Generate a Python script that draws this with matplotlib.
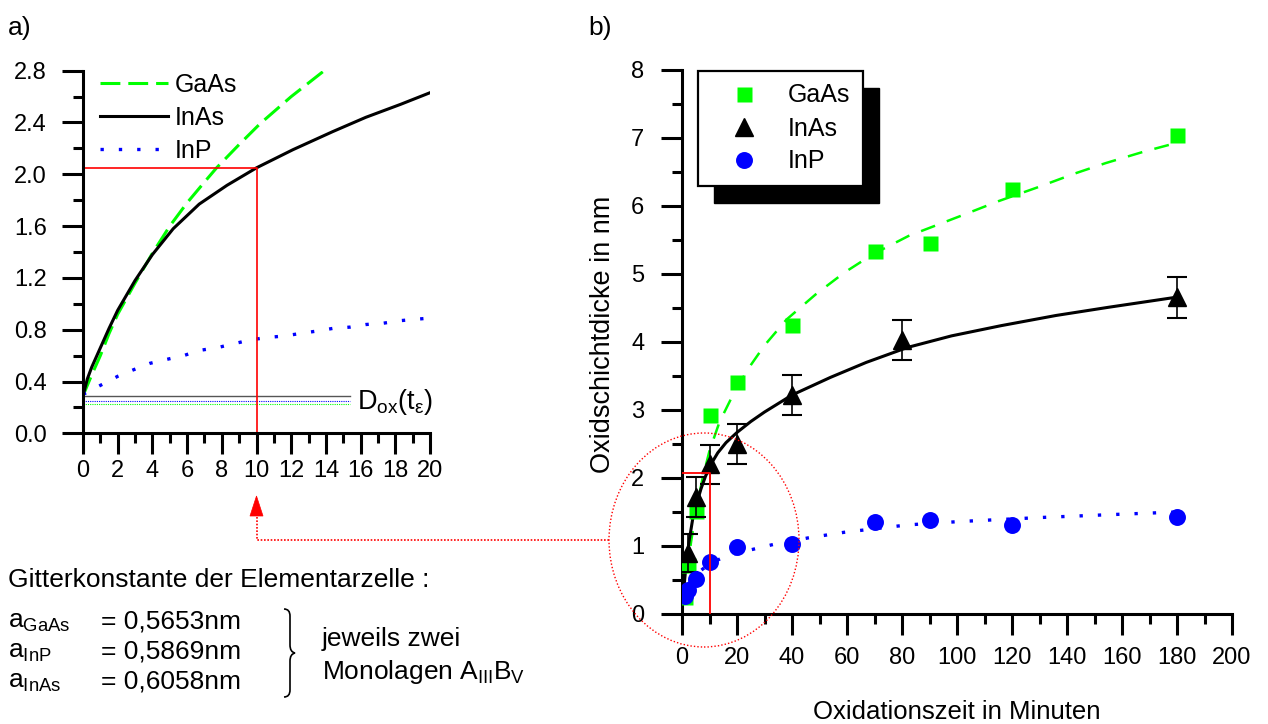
import matplotlib
matplotlib.use('Agg')
import matplotlib.pyplot as plt
from matplotlib.patches import Ellipse, Rectangle, Polygon, PathPatch
from matplotlib.path import Path
from matplotlib.lines import Line2D
from matplotlib.transforms import IdentityTransform

plt.rcParams['font.family'] = ['Liberation Sans', 'DejaVu Sans']
plt.rcParams['mathtext.fontset'] = 'custom'
plt.rcParams['mathtext.rm'] = 'Liberation Sans'
plt.rcParams['mathtext.it'] = 'Liberation Sans:italic'
plt.rcParams['mathtext.bf'] = 'Liberation Sans:bold'

GREEN = '#00ff00'
BLUE = '#0000ff'

# ---- panel a: model curves ----
a_t_gaas = [0, 0.5, 1, 1.5, 2, 3, 4, 5, 6, 7, 7.7, 9, 10.2, 12, 13.9, 14.2]
a_d_gaas = [0.29, 0.45, 0.6, 0.77, 0.92, 1.16, 1.39, 1.6, 1.78, 1.94, 2.05, 2.23, 2.39, 2.6, 2.8, 2.83]
a_t_inas = [0, 0.25, 0.5, 1, 1.5, 2, 3, 4, 5.2, 6.7, 8.3, 10, 12.1, 14.4, 16.3, 18.3, 20]
a_d_inas = [0.29, 0.42, 0.51, 0.66, 0.81, 0.95, 1.18, 1.38, 1.58, 1.77, 1.915, 2.05, 2.19, 2.33, 2.44, 2.54, 2.63]
a_t_inp = [0, 1, 2, 2.9, 3.85, 4.8, 5.8, 6.7, 7.7, 8.65, 9.6, 10.6, 11.5, 12.5, 13.5, 14.4, 15.4, 16.3, 17.3, 18.3, 20]
a_d_inp = [0.3, 0.37, 0.44, 0.49, 0.54, 0.57, 0.6, 0.64, 0.66, 0.69, 0.72, 0.74, 0.75, 0.77, 0.79, 0.81, 0.82, 0.84, 0.85, 0.87, 0.89]
dox_levels = [0.29, 0.25, 0.225]   # InAs, InP, GaAs
dox_tmax = 15.4
t_mark = 10
d_mark_a = 2.05

# ---- panel b: measurements ----
t_gaas = [1, 2, 5, 10, 20, 40, 70, 90, 120, 180]
d_gaas = [0.25, 0.72, 1.52, 2.92, 3.41, 4.25, 5.34, 5.45, 6.25, 7.04]
t_inas = [2, 5, 10, 20, 40, 80, 180]
d_inas = [0.9, 1.72, 2.2, 2.5, 3.22, 4.03, 4.66]
err_inas = [0.28, 0.29, 0.29, 0.3, 0.3, 0.3, 0.3]
t_inp = [1, 2, 5, 10, 20, 40, 70, 90, 120, 180]
d_inp = [0.27, 0.36, 0.51, 0.76, 0.98, 1.03, 1.36, 1.38, 1.31, 1.43]

# ---- panel b: fit curves ----
f_t_gaas = [0.3, 1.5, 3.3, 5, 7.5, 10, 13.6, 19.6, 25, 30, 38, 48.6, 59, 69.4, 82.4, 92.7, 103, 115, 129, 143, 154, 168, 180]
f_d_gaas = [0.2, 0.51, 1.06, 1.5, 2.0, 2.4, 2.82, 3.31, 3.66, 3.95, 4.33, 4.7, 5.02, 5.29, 5.56, 5.72, 5.88, 6.07, 6.27, 6.48, 6.63, 6.8, 6.93]
f_t_inas = [0.3, 1.45, 2.5, 3.9, 5.3, 6.9, 8.5, 10.5, 13, 16, 20, 25, 30, 40, 54, 67, 82, 98, 116, 136, 155, 180]
f_d_inas = [0.22, 0.71, 1.05, 1.4, 1.62, 1.84, 2.02, 2.2, 2.37, 2.52, 2.67, 2.83, 2.97, 3.22, 3.48, 3.7, 3.92, 4.09, 4.24, 4.39, 4.51, 4.66]
f_t_inp = [0.3, 2, 5, 10, 16.6, 28.7, 34, 46, 58.7, 82, 101, 131, 155, 180]
f_d_inp = [0.2, 0.42, 0.58, 0.74, 0.86, 0.98, 1.03, 1.12, 1.2, 1.31, 1.36, 1.42, 1.46, 1.5]
d_mark_b = 2.08

materials = ['GaAs', 'InAs', 'InP']
lattice_names = ['GaAs', 'InP', 'InAs']
lattice_values = [0.5653, 0.5869, 0.6058]

W, H = 1268, 724


def fx(px):
    return px / W


def fy(py):
    return 1 - py / H


def style_axis(ax, ypad, xpad):
    for s in ['top', 'right']:
        ax.spines[s].set_visible(False)
    for s in ['left', 'bottom']:
        ax.spines[s].set_linewidth(2.2)
    ax.tick_params(which='major', direction='out', length=15, width=2.2, labelsize=17)
    ax.tick_params(which='minor', direction='out', length=7.5, width=2.2)
    ax.tick_params(axis='y', which='major', pad=ypad)
    ax.tick_params(axis='x', which='major', pad=xpad)


fig = plt.figure(figsize=(12.68, 7.24), dpi=100)

# ================= panel a =================
ax_a = fig.add_axes([fx(83), fy(433.3), (430 - 83) / W, (433.3 - 70.7) / H])
ax_a.plot(a_t_gaas, a_d_gaas, color=GREEN, lw=2.2, ls=(0, (6.5, 2.6)), label='GaAs')
ax_a.plot(a_t_inas, a_d_inas, color='k', lw=2.2, label='InAs')
ax_a.plot(a_t_inp, a_d_inp, color=BLUE, lw=2.4, ls=(0, (1, 4.5)), label='InP')
ax_a.plot([0, dox_tmax], [dox_levels[0]] * 2, color='#555555', lw=1.0)
ax_a.plot([0, dox_tmax], [dox_levels[1]] * 2, color=BLUE, lw=0.8, ls=(0, (1, 1)))
ax_a.plot([0, dox_tmax], [dox_levels[2]] * 2, color=GREEN, lw=0.8, ls=(0, (1, 1)))
ax_a.plot([0, t_mark, t_mark], [d_mark_a, d_mark_a, 0], color='red', lw=1.2)
ax_a.text(15.8, 0.24, r'D$_{\mathrm{ox}}$(t$_{\mathrm{ε}}$)', fontsize=19.5, va='center')
ax_a.set_xlim(0, 20)
ax_a.set_ylim(0, 2.8)
ax_a.set_xticks(range(0, 21, 2))
ax_a.set_xticks(range(1, 20, 2), minor=True)
ax_a.set_yticks([0.4 * i for i in range(8)])
ax_a.set_yticks([0.2 + 0.4 * i for i in range(7)], minor=True)
ax_a.set_yticklabels(['%.1f' % (0.4 * i) for i in range(8)])
style_axis(ax_a, ypad=11, xpad=4)
ax_a.legend(loc='upper left', bbox_to_anchor=(0.049, 0.995), frameon=False, fontsize=18,
            handlelength=2.7, handletextpad=0.3, labelspacing=0.36, borderpad=0,
            borderaxespad=0)

# ================= panel b =================
ax_b = fig.add_axes([fx(682), fy(614), (1232 - 682) / W, (614 - 70) / H])
ax_b.plot(f_t_gaas, f_d_gaas, color=GREEN, lw=1.8, ls=(0, (6, 5)))
ax_b.plot(f_t_inas, f_d_inas, color='k', lw=2.2)
ax_b.plot(f_t_inp, f_d_inp, color=BLUE, lw=2.4, ls=(0, (1, 4.5)))
ax_b.plot(t_gaas, d_gaas, 's', color=GREEN, ms=10.8, mec='none', zorder=4)
ax_b.errorbar(t_inas, d_inas, yerr=err_inas, fmt='^', color='k', ms=12.5, ecolor='k',
              elinewidth=1.2, capsize=7.5, capthick=1.5, zorder=4)
ax_b.plot(t_inp, d_inp, 'o', color=BLUE, ms=12.2, mec='none', zorder=4)
ax_b.plot([0, t_mark, t_mark], [d_mark_b, d_mark_b, 0], color='red', lw=1.3, zorder=5)
ax_b.set_xlim(0, 200)
ax_b.set_ylim(0, 8)
ax_b.set_xticks(range(0, 201, 20))
ax_b.set_xticks(range(10, 200, 20), minor=True)
ax_b.set_yticks(range(0, 9))
ax_b.set_yticks([0.5 + i for i in range(8)], minor=True)
style_axis(ax_b, ypad=12, xpad=9)

proxies = [Line2D([], [], ls='none', marker='s', color=GREEN, ms=10.8, mec='none'),
           Line2D([], [], ls='none', marker='^', color='k', ms=12.5),
           Line2D([], [], ls='none', marker='o', color=BLUE, ms=12.2, mec='none')]
leg_b = ax_b.legend(proxies, materials, loc='upper left',
                    bbox_to_anchor=(fx(698), fy(71)), bbox_transform=fig.transFigure,
                    fontsize=18, frameon=True, fancybox=False, shadow=False,
                    handlelength=2.7, handletextpad=0.4, labelspacing=0.36,
                    borderpad=0.5, borderaxespad=0)
leg_b.get_frame().set_edgecolor('k')
leg_b.get_frame().set_linewidth(1.6)
leg_b.get_frame().set_alpha(1)
leg_b.set_zorder(6)

fig.text(fx(957), fy(712), 'Oxidationszeit in Minuten', fontsize=18.5, ha='center', va='center')
fig.text(fx(603), fy(334), 'Oxidschichtdicke in nm', fontsize=19.5, ha='center', va='center',
         rotation=90)

# panel labels
fig.text(fx(8), fy(28), 'a)', fontsize=19, va='center')
fig.text(fx(588), fy(28), 'b)', fontsize=19, va='center')

# zoom ellipse and connector
ell = Ellipse((fx(704), fy(540)), width=190 / W, height=214 / H, transform=fig.transFigure,
              fill=False, ec='red', lw=1.0, ls=(0, (1, 1.5)), zorder=3)
fig.add_artist(ell)
fig.add_artist(Line2D([fx(609), fx(256.5), fx(256.5)], [fy(540), fy(540), fy(516)],
                      transform=fig.transFigure, color='red', lw=1.2, ls=(0, (1, 1))))
fig.add_artist(Polygon([(fx(250), fy(516)), (fx(263), fy(516)), (fx(256.5), fy(496))],
                       closed=True, transform=fig.transFigure, fc='red', ec='red', lw=0.5))

# lattice constants text
fig.text(fx(8), fy(587), 'Gitterkonstante der Elementarzelle :', fontsize=19, va='baseline')
for i, (nm, val) in enumerate(zip(lattice_names, lattice_values)):
    yb = 628 + 30 * i
    fig.text(fx(8), fy(yb), r'a$_{\mathrm{%s}}$' % nm, fontsize=19, va='baseline')
    fig.text(fx(101), fy(yb), '= ' + ('%.4f' % val).replace('.', ',') + 'nm', fontsize=19,
             va='baseline')

# curly brace
bv = [(284, 609), (290, 609), (290, 616), (290, 645), (290, 652), (295, 653),
      (290, 654), (290, 661), (290, 690), (290, 697), (284, 697)]
codes = [Path.MOVETO, Path.CURVE3, Path.CURVE3, Path.LINETO, Path.CURVE3, Path.CURVE3,
         Path.CURVE3, Path.CURVE3, Path.LINETO, Path.CURVE3, Path.CURVE3]
brace = Path([(fx(x), fy(y)) for x, y in bv], codes)
fig.add_artist(PathPatch(brace, transform=fig.transFigure, fill=False, ec='k', lw=1.2))

fig.text(fx(322), fy(646), 'jeweils zwei', fontsize=19, va='baseline')
fig.text(fx(322), fy(679), r'Monolagen A$_{\mathrm{III}}$B$_{\mathrm{V}}$', fontsize=19,
         va='baseline')

# black drop shadow behind legend b
fig.canvas.draw()
bb = leg_b.get_window_extent()
shadow = Rectangle((bb.x0 + 16, bb.y0 - 17), bb.width, bb.height, transform=IdentityTransform(),
                   fc='k', ec='k', zorder=5.9, clip_on=False)
ax_b.add_artist(shadow)

fig.savefig('out.png', dpi=100)
